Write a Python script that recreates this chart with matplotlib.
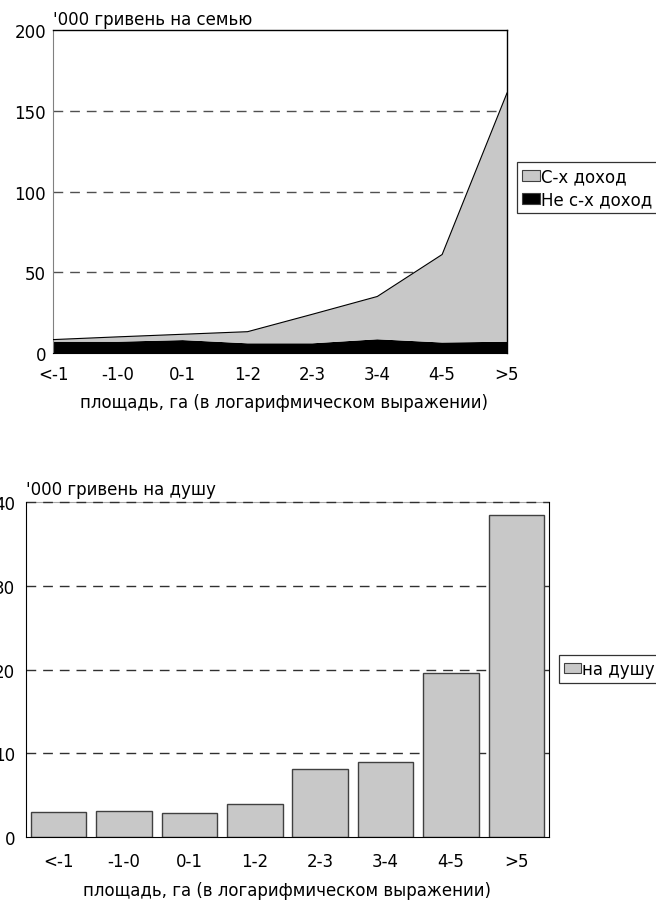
import matplotlib
matplotlib.use("Agg")
import matplotlib.pyplot as plt
from matplotlib.patches import Patch
import numpy as np

plt.rcParams['font.family'] = ['DejaVu Sans']

categories = ['<-1', '-1-0', '0-1', '1-2', '2-3', '3-4', '4-5', '>5']
nonag_income = [7.0, 7.0, 8.0, 6.0, 6.0, 8.5, 6.5, 7.0]
ag_income = [1.3, 3.0, 3.6, 7.2, 18.0, 26.5, 54.5, 154.0]
per_capita = [2.9, 3.1, 2.8, 3.9, 8.1, 8.9, 19.6, 38.5]

top_yticks = [0, 50, 100, 150, 200]
bot_yticks = [0, 10, 20, 30, 40]

GRAY = '#c8c8c8'
FS = 12
W, H = 656, 903

fig = plt.figure(figsize=(W / 100, H / 100), dpi=100)

# ---------- top chart ----------
ax1 = fig.add_axes([53 / W, 1 - 354 / H, (507 - 53) / W, (354 - 31) / H])
x = np.arange(len(categories))
ax1.stackplot(x, nonag_income, ag_income, colors=['black', GRAY], zorder=2,
              linewidth=0)
total = np.array(nonag_income) + np.array(ag_income)
ax1.plot(x, total, color='black', lw=0.8, zorder=3)
ax1.set_xlim(0, len(categories) - 1)
ax1.set_ylim(0, 200)
ax1.set_yticks(top_yticks)
ax1.set_xticks(x)
ax1.set_xticklabels(categories)
ax1.tick_params(axis='both', length=0, labelsize=FS)
ax1.tick_params(axis='y', pad=5)
ax1.tick_params(axis='x', pad=9)
for v in top_yticks[1:-1]:
    ax1.axhline(v, color='#505050', lw=1.0, ls=(0, (7, 5)), zorder=1)
for s in ['top', 'right']:
    ax1.spines[s].set_color('black')
    ax1.spines[s].set_linewidth(1.0)
ax1.spines['left'].set_color('#808080')
ax1.spines['bottom'].set_color('black')
fig.text(53 / W, 1 - 25 / H, "'000 гривень на семью", fontsize=FS,
         ha='left', va='baseline')
fig.text(284 / W, 1 - 403 / H, 'площадь, га (в логарифмическом выражении)',
         fontsize=FS, ha='center', va='center')
leg1 = fig.legend(handles=[Patch(facecolor=GRAY, edgecolor='#404040', lw=0.8),
                           Patch(facecolor='black', edgecolor='#404040', lw=0.8)],
                  labels=['С-х доход', 'Не с-х доход'],
                  loc='upper left', bbox_to_anchor=(517 / W, 1 - 163 / H),
                  fontsize=FS, frameon=True, fancybox=False, shadow=False,
                  borderaxespad=0, borderpad=0.3, handlelength=1.05,
                  handleheight=0.65, handletextpad=0.1, labelspacing=0.3)
leg1.get_frame().set_edgecolor('black')
leg1.get_frame().set_linewidth(0.9)

# ---------- bottom chart ----------
ax2 = fig.add_axes([26 / W, 1 - 837.7 / H, (549 - 26) / W, (837.7 - 503.3) / H])
ax2.bar(x, per_capita, width=0.85, color=GRAY, edgecolor='#404040', lw=1.0,
        zorder=2)
ax2.set_xlim(-0.5, len(categories) - 0.5)
ax2.set_ylim(0, 40)
ax2.set_yticks(bot_yticks)
ax2.set_xticks(x)
ax2.set_xticklabels(categories)
ax2.tick_params(axis='both', length=0, labelsize=FS)
ax2.tick_params(axis='y', pad=8)
ax2.tick_params(axis='x', pad=11)
for v in bot_yticks[1:]:
    ax2.axhline(v, color='#303030', lw=1.0, ls=(0, (7, 5)), zorder=1.5,
                clip_on=False)
for s in ['left', 'bottom', 'right']:
    ax2.spines[s].set_color('black')
ax2.spines['top'].set_color('#a8a8a8')
ax2.spines['top'].set_zorder(1.4)
fig.text(26 / W, 1 - 495 / H, "'000 гривень на душу", fontsize=FS,
         ha='left', va='baseline')
fig.text(287 / W, 1 - 891 / H, 'площадь, га (в логарифмическом выражении)',
         fontsize=FS, ha='center', va='center')
leg2 = fig.legend(handles=[Patch(facecolor=GRAY, edgecolor='#404040', lw=0.8)],
                  labels=['на душу'],
                  loc='upper left', bbox_to_anchor=(559 / W, 1 - 655.7 / H),
                  fontsize=FS, frameon=True, fancybox=False, shadow=False,
                  borderaxespad=0, borderpad=0.3, handlelength=1.0,
                  handleheight=0.6, handletextpad=0.1)
leg2.get_frame().set_edgecolor('black')
leg2.get_frame().set_linewidth(0.9)

fig.savefig('out.png', dpi=100)
